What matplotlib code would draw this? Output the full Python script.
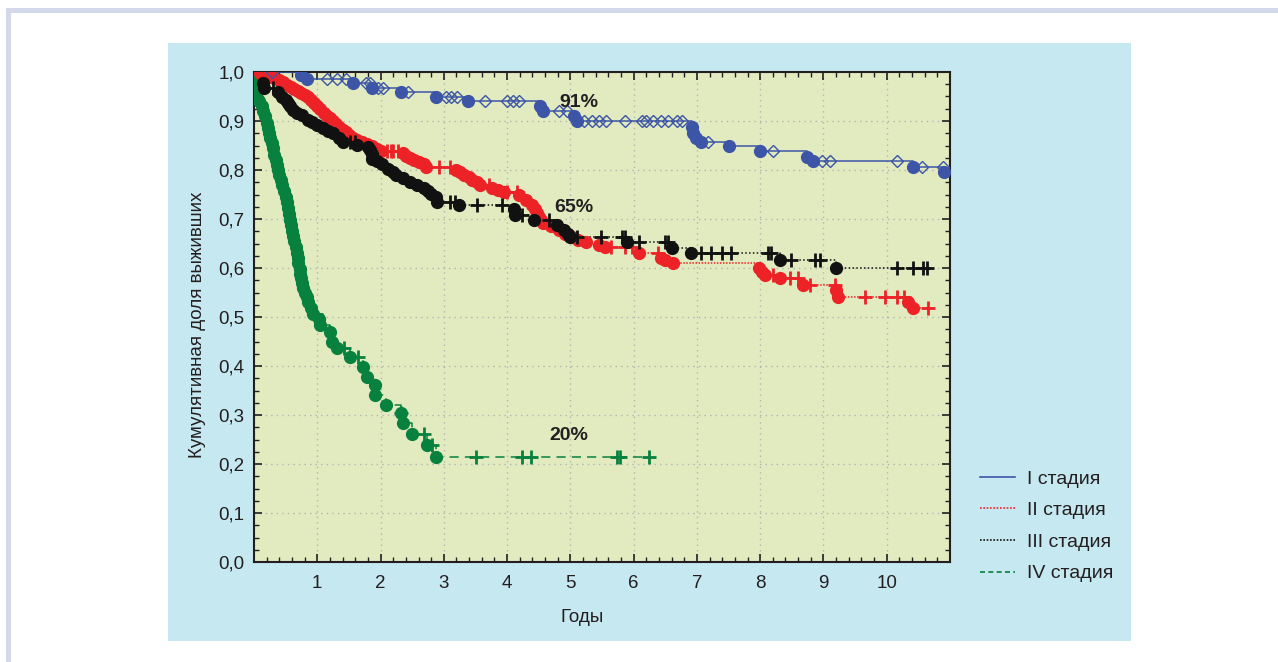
import numpy as np
import matplotlib
matplotlib.use("Agg")
import matplotlib.pyplot as plt
from matplotlib.lines import Line2D
from matplotlib.patches import Rectangle
from matplotlib.ticker import MultipleLocator, FuncFormatter

plt.rcParams['font.family'] = ['Liberation Sans', 'DejaVu Sans']

# Stage I: event times / survival after event, censored times
st1_t = [0.74, 0.83, 1.56, 1.86, 2.33, 2.88, 3.39, 4.52, 4.57, 5.06, 5.11,
         6.92, 6.94, 6.98, 7.07, 7.5, 8.0, 8.74, 8.83, 10.41, 10.91]
st1_s = [0.993, 0.985, 0.978, 0.967, 0.96, 0.95, 0.94, 0.93, 0.92, 0.91, 0.90,
         0.888, 0.876, 0.866, 0.858, 0.849, 0.839, 0.827, 0.818, 0.806, 0.796]
st1_c = [0.28, 1.16, 1.31, 1.46, 1.77, 1.83, 1.96, 2.04, 2.44, 3.04, 3.12, 3.21,
         3.65, 4.0, 4.09, 4.19, 4.82, 4.94, 5.21, 5.34, 5.45, 5.56, 5.87, 6.13,
         6.2, 6.31, 6.44, 6.55, 6.68, 6.76, 7.18, 8.2, 8.98, 9.1, 10.16, 10.55, 10.89]

# Stage II
st2_t = [0.10, 0.18, 0.25, 0.32, 0.39, 0.46, 0.52, 0.58, 0.64, 0.70, 0.75, 0.80,
         0.85, 0.90, 0.95, 1.0, 1.05, 1.10, 1.15, 1.20, 1.25, 1.30, 1.35, 1.40,
         1.45, 1.50, 1.56, 1.62, 1.70, 1.78, 1.86, 1.94, 2.0, 2.36, 2.41, 2.47,
         2.53, 2.60, 2.68, 2.72, 3.2, 3.25, 3.32, 3.4, 3.45, 3.52, 3.57, 3.76,
         3.85, 3.95, 4.19, 4.3, 4.39, 4.44, 4.47, 4.51, 4.54, 4.57, 4.7, 4.82,
         4.92, 5.02, 5.12, 5.24, 5.45, 5.55, 6.08, 6.44, 6.5, 6.63, 7.98, 8.03,
         8.08, 8.31, 8.68, 9.2, 9.23, 10.33, 10.41]
st2_s = [0.997, 0.994, 0.991, 0.987, 0.983, 0.979, 0.974, 0.970, 0.966, 0.961,
         0.957, 0.953, 0.949, 0.943, 0.936, 0.930, 0.924, 0.917, 0.911, 0.906,
         0.900, 0.894, 0.888, 0.882, 0.877, 0.871, 0.866, 0.862, 0.858, 0.854,
         0.850, 0.843, 0.839, 0.834, 0.829, 0.824, 0.820, 0.816, 0.812, 0.806,
         0.800, 0.795, 0.790, 0.786, 0.780, 0.775, 0.770, 0.763, 0.759, 0.755,
         0.749, 0.739, 0.729, 0.72, 0.712, 0.704, 0.698, 0.692, 0.685, 0.678,
         0.67, 0.663, 0.658, 0.653, 0.647, 0.642, 0.631, 0.62, 0.616, 0.61,
         0.60, 0.592, 0.586, 0.58, 0.565, 0.555, 0.541, 0.53, 0.518]
st2_c = [0.06, 0.13, 0.95, 1.45, 2.1, 2.16, 2.2, 2.27, 2.93, 3.09, 3.72, 4.0,
         4.15, 5.64, 5.87, 5.97, 6.39, 8.2, 8.47, 8.6, 8.79, 9.18, 9.65, 9.98,
         10.17, 10.28, 10.65]

# Stage III
st3_t = [0.14, 0.16, 0.38, 0.44, 0.5, 0.54, 0.57, 0.61, 0.68, 0.76, 0.85, 0.92,
         1.0, 1.09, 1.17, 1.25, 1.35, 1.4, 1.62, 1.8, 1.84, 1.86, 1.87, 1.95,
         2.03, 2.12, 2.19, 2.25, 2.35, 2.46, 2.58, 2.69, 2.75, 2.8, 2.87, 2.9,
         3.24, 4.11, 4.13, 4.43, 4.79, 4.9, 4.97, 5.0, 5.89, 6.6, 6.91, 8.31, 9.2]
st3_s = [0.977, 0.967, 0.959, 0.95, 0.943, 0.937, 0.93, 0.922, 0.917, 0.912,
         0.902, 0.897, 0.892, 0.886, 0.88, 0.875, 0.865, 0.857, 0.852, 0.847,
         0.84, 0.833, 0.822, 0.818, 0.812, 0.803, 0.796, 0.79, 0.783, 0.776,
         0.77, 0.763, 0.758, 0.752, 0.745, 0.735, 0.728, 0.72, 0.708, 0.698,
         0.688, 0.678, 0.67, 0.663, 0.653, 0.641, 0.631, 0.616, 0.6]
st3_c = [0.3, 1.51, 1.59, 3.09, 3.17, 3.53, 3.92, 4.24, 4.66, 5.1, 5.48, 5.81,
         5.87, 6.08, 6.5, 6.55, 7.07, 7.23, 7.39, 7.54, 8.13, 8.17, 8.49, 8.87,
         8.94, 10.17, 10.41, 10.58, 10.64]

# Stage IV
st4_t = [0.01, 0.02, 0.03, 0.05, 0.08, 0.12, 0.15, 0.18, 0.2, 0.22, 0.24, 0.26,
         0.28, 0.3, 0.32, 0.34, 0.36, 0.38, 0.4, 0.42, 0.45, 0.48, 0.5, 0.52,
         0.54, 0.56, 0.57, 0.58, 0.6, 0.62, 0.64, 0.66, 0.68, 0.69, 0.7, 0.72,
         0.73, 0.74, 0.76, 0.78, 0.81, 0.83, 0.86, 0.9, 0.93, 1.02, 1.04, 1.2,
         1.23, 1.31, 1.51, 1.72, 1.78, 1.91, 1.92, 2.09, 2.33, 2.35, 2.5, 2.74,
         2.87]
st4_s = [0.99, 0.975, 0.96, 0.947, 0.94, 0.93, 0.92, 0.91, 0.895, 0.885, 0.875,
         0.865, 0.855, 0.845, 0.83, 0.82, 0.81, 0.8, 0.79, 0.78, 0.77, 0.758,
         0.745, 0.735, 0.722, 0.71, 0.698, 0.688, 0.675, 0.665, 0.655, 0.643,
         0.63, 0.62, 0.61, 0.598, 0.588, 0.58, 0.57, 0.56, 0.55, 0.54, 0.53,
         0.518, 0.507, 0.495, 0.484, 0.469, 0.449, 0.437, 0.418, 0.398, 0.378,
         0.361, 0.341, 0.32, 0.304, 0.284, 0.261, 0.239, 0.214]
st4_c = [0.98, 1.43, 1.64, 2.33, 2.69, 2.82, 3.51, 4.24, 4.37, 5.73, 5.78, 6.24]

labels = ["I стадия", "II стадия", "III стадия", "IV стадия"]
pct_text = ["91%", "65%", "20%"]
pct_pos = [(5.13, 0.937), (5.06, 0.724), (4.98, 0.259)]


def surv_at(t_ev, s_ev, t):
    s = 1.0
    for te, se in zip(t_ev, s_ev):
        if te <= t:
            s = se
    return s


fig = plt.figure(figsize=(12.78, 6.62), dpi=100)
fig.patch.set_facecolor("white")
# lavender frame and blue panel (behind the axes)
fig.patches.append(Rectangle((6 / 1278, 0), 5 / 1278, 1 - 8 / 662, transform=fig.transFigure,
                             facecolor="#d3d8ea", edgecolor="none", zorder=-10))
fig.patches.append(Rectangle((6 / 1278, 1 - 13 / 662), 1 - 6 / 1278, 5 / 662, transform=fig.transFigure,
                             facecolor="#d3d8ea", edgecolor="none", zorder=-10))
fig.patches.append(Rectangle((168 / 1278, 21 / 662), 963 / 1278, 598 / 662, transform=fig.transFigure,
                             facecolor="#c6e8f0", edgecolor="none", zorder=-10))

ax = fig.add_axes([254 / 1278, 100 / 662, 696 / 1278, 490 / 662])
ax.set_facecolor("#e2ebc0")

series = [
    (st4_t, st4_s, st4_c, "#08803e", (0, (6, 4)), "+"),
    (st2_t, st2_s, st2_c, "#ec2227", (0, (1, 1)), "+"),
    (st3_t, st3_s, st3_c, "#111111", (0, (1, 1.5)), "+"),
    (st1_t, st1_s, st1_c, "#3d55a6", "-", "D"),
]
for t_ev, s_ev, t_c, col, ls, cm in series:
    t_end = max(t_ev + t_c)
    xs = [0] + t_ev + [t_end]
    ys = [1.0] + s_ev + [s_ev[-1]]
    ax.plot(xs, ys, drawstyle="steps-post", color=col, linestyle=ls, lw=1.1, zorder=3)
    ax.plot(t_ev, s_ev, "o", color=col, ms=8.5, mec=col, zorder=4)
    cy = [surv_at(t_ev, s_ev, t) for t in t_c]
    if cm == "D":
        ax.plot(t_c, cy, "D", ms=6.5, mfc="none", mec=col, mew=1.0, zorder=4)
    else:
        ax.plot(t_c, cy, "+", ms=10, mec=col, mew=2.0, zorder=4)

for txt, (tx, ty) in zip(pct_text, pct_pos):
    ax.text(tx, ty, txt, ha="center", va="center", fontsize=14, fontweight="bold",
            color="#231f20", family=["Liberation Sans Narrow", "Liberation Sans"], zorder=5)

ax.set_xlim(0, 11)
ax.set_ylim(0, 1.0)
ax.xaxis.set_major_locator(MultipleLocator(1))
ax.xaxis.set_minor_locator(MultipleLocator(0.2))
ax.yaxis.set_major_locator(MultipleLocator(0.1))
ax.yaxis.set_minor_locator(MultipleLocator(0.025))
ax.xaxis.set_major_formatter(FuncFormatter(lambda v, p: "" if v < 0.5 or v > 10.5 else f"{v:.0f}"))
ax.yaxis.set_major_formatter(FuncFormatter(lambda v, p: f"{v:.1f}".replace(".", ",")))
ax.tick_params(which="both", direction="in", top=True, right=True, colors="#231f20",
               labelsize=13.5, width=1.2)
ax.tick_params(which="major", length=6)
ax.tick_params(which="minor", length=3.5, width=1.0)
ax.tick_params(axis="y", pad=7)
ax.tick_params(axis="x", pad=9)
ax.grid(True, which="major", color="#b3b3b3", linestyle=(0, (1, 3)), lw=1.0, zorder=1)
for sp in ax.spines.values():
    sp.set_linewidth(1.5)
    sp.set_color("#231f20")

fig.text(197 / 1278, 1 - 325 / 662, "Кумулятивная доля выживших", rotation=90,
         ha="center", va="center", fontsize=13.5, color="#231f20")
fig.text(582 / 1278, 1 - 617 / 662, "Годы", ha="center", va="center",
         fontsize=13.5, color="#231f20")

handles = [Line2D([], [], color="#3d55a6", lw=1.2, ls="-"),
           Line2D([], [], color="#ec2227", lw=1.2, ls=(0, (1, 1))),
           Line2D([], [], color="#111111", lw=1.2, ls=(0, (1, 1))),
           Line2D([], [], color="#08803e", lw=1.2, ls=(0, (3, 2)))]
leg = fig.legend(handles, labels, loc="upper left", bbox_to_anchor=(980 / 1278, 1 - 470 / 662),
                 frameon=False, fontsize=14, handlelength=1.8, handletextpad=0.6,
                 labelspacing=0.72, borderpad=0, borderaxespad=0)
for t in leg.get_texts():
    t.set_color("#231f20")

fig.savefig("out.png", dpi=100, facecolor="white")
